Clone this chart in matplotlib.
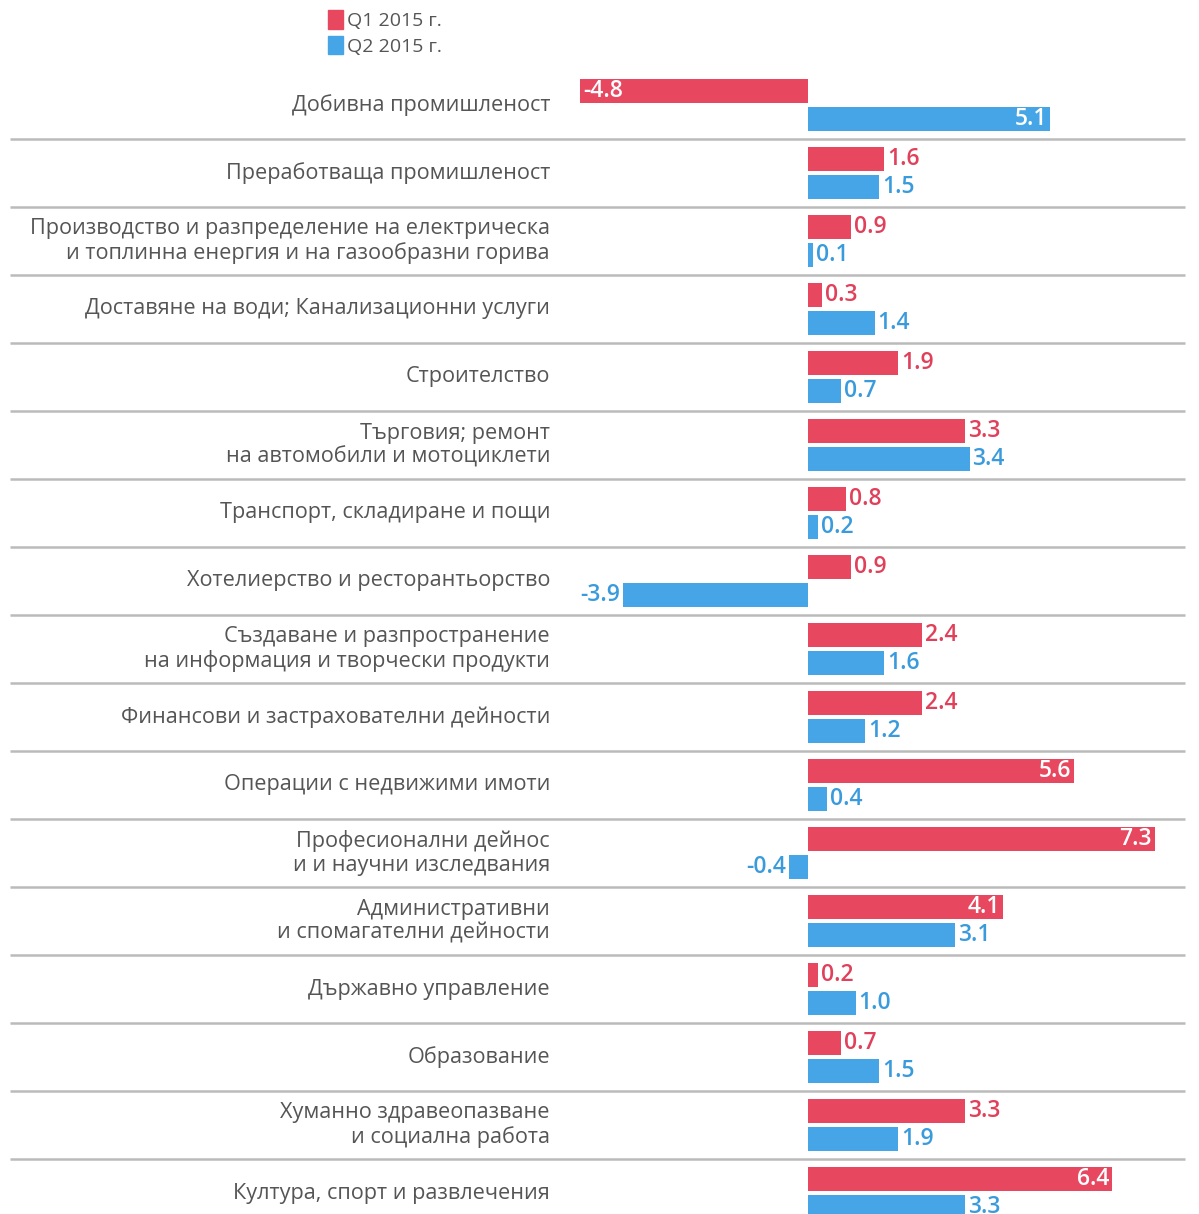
import matplotlib
matplotlib.use("Agg")
import matplotlib.pyplot as plt
from matplotlib.patches import Patch

categories = [
    "Добивна промишленост",
    "Преработваща промишленост",
    "Производство и разпределение на електрическа\nи топлинна енергия и на газообразни горива",
    "Доставяне на води; Канализационни услуги",
    "Строителство",
    "Търговия; ремонт\nна автомобили и мотоциклети",
    "Транспорт, складиране и пощи",
    "Хотелиерство и ресторантьорство",
    "Създаване и разпространение\nна информация и творчески продукти",
    "Финансови и застрахователни дейности",
    "Операции с недвижими имоти",
    "Професионални дейнос\nи и научни изследвания",
    "Административни\nи спомагателни дейности",
    "Държавно управление",
    "Образование",
    "Хуманно здравеопазване\nи социална работа",
    "Култура, спорт и развлечения",
]
q1 = [-4.8, 1.6, 0.9, 0.3, 1.9, 3.3, 0.8, 0.9, 2.4, 2.4, 5.6, 7.3, 4.1, 0.2, 0.7, 3.3, 6.4]
q2 = [5.1, 1.5, 0.1, 1.4, 0.7, 3.4, 0.2, -3.9, 1.6, 1.2, 0.4, -0.4, 3.1, 1.0, 1.5, 1.9, 3.3]
series_names = ["Q1 2015 г.", "Q2 2015 г."]

RED = "#E8485F"
BLUE = "#45A5E6"
RED_T = "#E0405A"
BLUE_T = "#3A9BDC"
GRAY = "#555555"

W, H = 1199, 1214
fig = plt.figure(figsize=(W / 100, H / 100), dpi=100)
ax = fig.add_axes([0, 0, 1, 1])

px_unit = 47.5
zero_px = 808
ax.set_xlim(-zero_px / px_unit, (W - zero_px) / px_unit)
row_px = 68
top_px = 105
ax.set_ylim((H - top_px) / row_px, -top_px / row_px)
ax.axis("off")

n = len(categories)
ys = list(range(n))
bh = 24 / row_px
off = 14 / row_px
ax.barh([y - off for y in ys], q1, height=bh, color=RED, zorder=2)
ax.barh([y + off for y in ys], q2, height=bh, color=BLUE, zorder=2)

font = "Open Sans"
pad = 3 / px_unit
vfs = 16.5
for vals, sign, tc in ((q1, -1, RED_T), (q2, 1, BLUE_T)):
    for i, v in enumerate(vals):
        y = i + sign * off
        s = f"{v:.1f}"
        if abs(v) >= 4:
            if v > 0:
                ax.text(v - pad, y, s, ha="right", va="center", color="white",
                        fontsize=vfs, fontweight="semibold", family=font, zorder=3)
            else:
                ax.text(v + pad, y, s, ha="left", va="center", color="white",
                        fontsize=vfs, fontweight="semibold", family=font, zorder=3)
        else:
            if v >= 0:
                ax.text(v + pad, y, s, ha="left", va="center", color=tc,
                        fontsize=vfs, fontweight="semibold", family=font, zorder=3)
            else:
                ax.text(v - pad, y, s, ha="right", va="center", color=tc,
                        fontsize=vfs, fontweight="semibold", family=font, zorder=3)

label_x = (550 - zero_px) / px_unit
for i, c in enumerate(categories):
    ax.text(label_x, i, c, ha="right", va="center", color=GRAY, fontsize=15.6,
            family=font, linespacing=1.15)

x0 = (10 - zero_px) / px_unit
x1 = (1185 - zero_px) / px_unit
for i in range(n - 1):
    ax.plot([x0, x1], [i + 0.5, i + 0.5], color="#BBBBBB", lw=1.8, zorder=1,
            solid_capstyle="butt")

handles = [Patch(color=RED, label=series_names[0]), Patch(color=BLUE, label=series_names[1])]
leg = fig.legend(handles=handles, loc="upper left", bbox_to_anchor=(328 / W, 1 - 10 / H),
                 frameon=False, handlelength=0.75, handleheight=1.1, handletextpad=0.25,
                 labelspacing=0.3, borderpad=0, borderaxespad=0,
                 prop={"family": font, "size": 14})
for t in leg.get_texts():
    t.set_color(GRAY)

fig.savefig("out.png", dpi=100)
